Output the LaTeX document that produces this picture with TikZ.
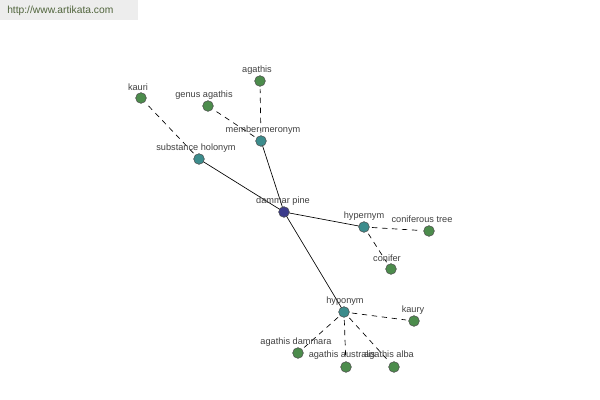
\documentclass[tikz,border=0pt]{standalone}
\usepackage{fontspec}
\setmainfont{Liberation Sans}
\begin{document}
\begin{tikzpicture}[x=0.75pt,y=-0.75pt,
  dot/.style={circle,draw=black!70,line width=0.4pt,minimum size=8pt,inner sep=0pt},
  hubdot/.style={dot,fill=hubc},
  leafdot/.style={dot,fill=leafc},
  rootdot/.style={dot,fill=rootc},
  lbl/.style={font=\fontsize{6.9}{8}\selectfont,text=black!75,inner sep=0pt},
  solidlink/.style={draw=black,line width=0.5pt},
  dashlink/.style={draw=black,line width=0.5pt,dash pattern=on 4pt off 3.5pt,shorten >=6pt,shorten <=6pt}]
\definecolor{hubc}{RGB}{60,140,140}
\definecolor{leafc}{RGB}{76,140,76}
\definecolor{rootc}{RGB}{60,60,140}
\definecolor{wmc}{RGB}{80,100,60}
\useasboundingbox (0,0) rectangle (600,400);
\fill[white] (0,0) rectangle (600,400);
\fill[black!7] (0,0) rectangle (138,20);
\node[font=\fontsize{7.7}{9}\selectfont,text=wmc,anchor=west,inner sep=0pt] (wm) at (7,11) {http://www.artikata.com};

% edges first
\coordinate (cdp) at (284,212);
\coordinate (cmm) at (261,141);
\coordinate (csh) at (199,159);
\coordinate (chy) at (364,227);
\coordinate (cho) at (344,312);
\coordinate (cka) at (141,98);
\coordinate (cga) at (208,106);
\coordinate (cag) at (260,81);
\coordinate (cct) at (429,231);
\coordinate (ccf) at (391,269);
\coordinate (cky) at (414,321);
\coordinate (cad) at (298,353);
\coordinate (caa) at (346,367);
\coordinate (cal) at (394,367);

\draw[solidlink] (cdp) -- (cmm);
\draw[solidlink] (cdp) -- (csh);
\draw[solidlink] (cdp) -- (chy);
\draw[solidlink] (cdp) -- (cho);
\draw[dashlink] (csh) -- (cka);
\draw[dashlink] (cmm) -- (cga);
\draw[dashlink] (cmm) -- (cag);
\draw[dashlink] (chy) -- (cct);
\draw[dashlink] (chy) -- (ccf);
\draw[dashlink] (cho) -- (cky);
\draw[dashlink] (cho) -- (cad);
\draw[dashlink] (cho) -- (caa);
\draw[dashlink] (cho) -- (cal);

% nodes
\node[rootdot] (dp) at (cdp) {};
\node[hubdot] (mm) at (cmm) {};
\node[hubdot] (sh) at (csh) {};
\node[hubdot] (hy) at (chy) {};
\node[hubdot] (ho) at (cho) {};
\node[leafdot] (ka) at (cka) {};
\node[leafdot] (ga) at (cga) {};
\node[leafdot] (ag) at (cag) {};
\node[leafdot] (ct) at (cct) {};
\node[leafdot] (cf) at (ccf) {};
\node[leafdot] (ky) at (cky) {};
\node[leafdot] (ad) at (cad) {};
\node[leafdot] (aa) at (caa) {};
\node[leafdot] (al) at (cal) {};

% labels
\node[lbl] (ldp) at (283,201) {dammar pine};
\node[lbl] (lmm) at (263,130) {member meronym};
\node[lbl] (lsh) at (196,148) {substance holonym};
\node[lbl] (lhy) at (364,216) {hypernym};
\node[lbl] (lho) at (345,301) {hyponym};
\node[lbl] (lka) at (138,87) {kauri};
\node[lbl] (lga) at (204,95) {genus agathis};
\node[lbl] (lag) at (257,70) {agathis};
\node[lbl] (lct) at (422,219) {coniferous tree};
\node[lbl] (lcf) at (387,258) {conifer};
\node[lbl] (lky) at (413,310) {kaury};
\node[lbl] (lad) at (296,342) {agathis dammara};
\node[lbl] (laa) at (342,355) {agathis australis};
\node[lbl] (lal) at (389,355) {agathis alba};
\end{tikzpicture}
\end{document}
